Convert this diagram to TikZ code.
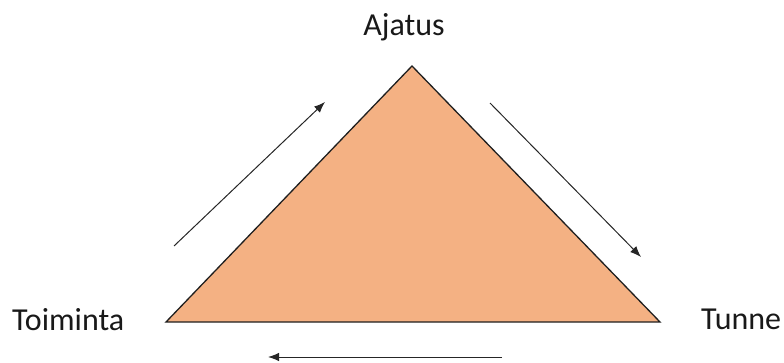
\documentclass[tikz,border=0pt]{standalone}
\usepackage{fontspec}
\setmainfont{Carlito}
\usetikzlibrary{arrows.meta}
\definecolor{triFill}{HTML}{F4B183}
\definecolor{triLine}{HTML}{1F1F1F}
\begin{document}
\begin{tikzpicture}[x=1pt,y=-1pt,
  lbl/.style={font=\fontsize{32}{38}\selectfont, inner sep=0pt, text=black!90},
  flow/.style={-{Latex[length=11pt,width=8.5pt]}, line width=1pt, black!85}]
\useasboundingbox (0,0) rectangle (784,363);
\coordinate (top) at (412,66);
\coordinate (bl) at (166,322);
\coordinate (br) at (660,322);
\fill[triFill] (top) -- (bl) -- (br) -- cycle;
\draw[triLine, line width=1.3pt, line join=miter] (top) -- (bl) -- (br) -- cycle;
\node[lbl, anchor=base] (ajatus) at (404,36) {Ajatus};
\node[lbl, anchor=base west] (toiminta) at (12,330) {Toiminta};
\node[lbl, anchor=base west] (tunne) at (701,329) {Tunne};
\coordinate (a1s) at (174,246);
\coordinate (a1e) at (325,102);
\coordinate (a2s) at (490,103);
\coordinate (a2e) at (641,257);
\coordinate (a3s) at (502,357);
\coordinate (a3e) at (268,357);
\draw[flow] (a1s) -- (a1e);
\draw[flow] (a2s) -- (a2e);
\draw[flow] (a3s) -- (a3e);
\end{tikzpicture}
\end{document}
